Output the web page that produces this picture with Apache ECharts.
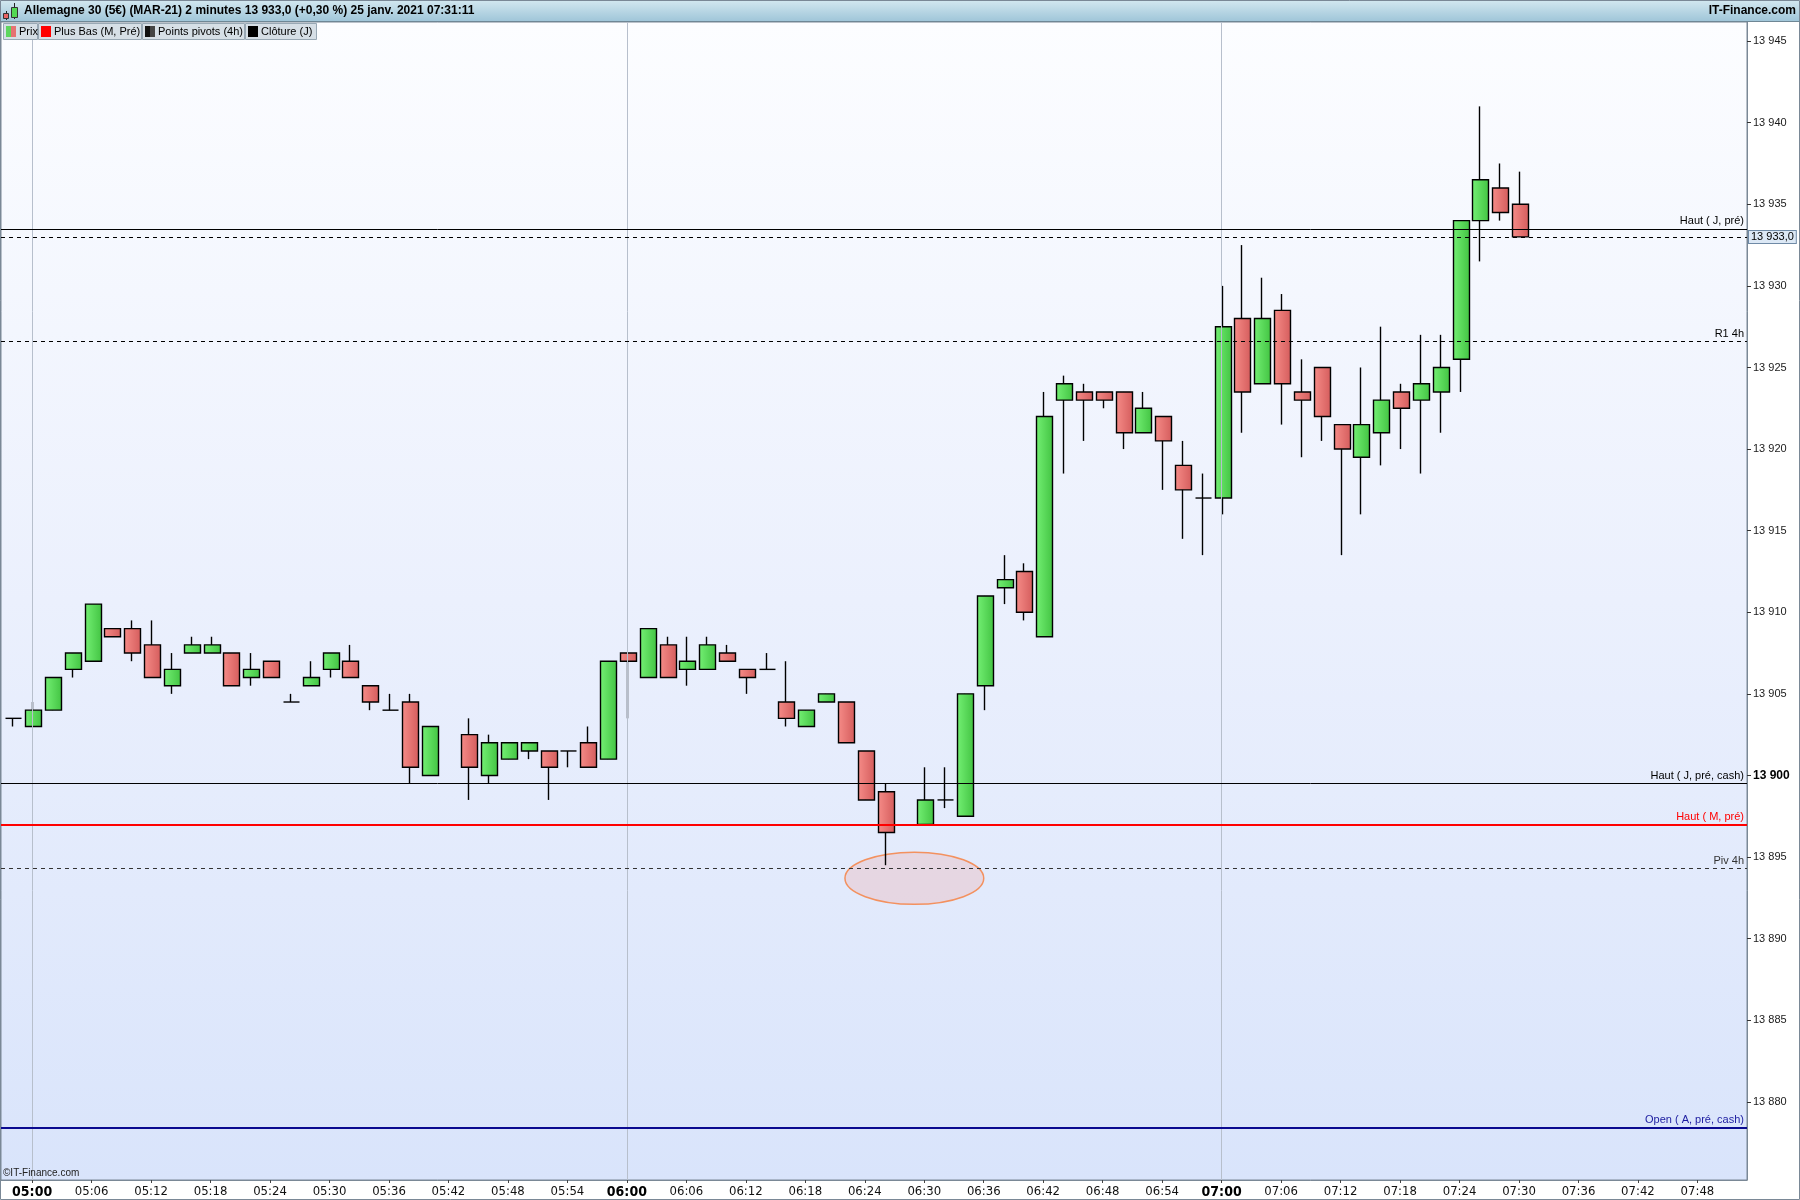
<!DOCTYPE html>
<html><head><meta charset="utf-8">
<script src="https://cdn.jsdelivr.net/npm/echarts@6/dist/echarts.min.js"></script>
<style>html,body{margin:0;padding:0;background:#fff}#chart{width:1800px;height:1200px}</style>
</head><body><div id="chart"></div>
<script>
// ---------------- DATA ----------------
const times = ['04:58','05:00','05:02','05:04','05:06','05:08','05:10','05:12','05:14','05:16','05:18','05:20','05:22','05:24','05:26','05:28','05:30','05:32','05:34','05:36','05:38','05:40',
'05:44','05:46','05:48','05:50','05:52','05:54','05:56','05:58','06:00','06:02','06:04','06:06','06:08','06:10','06:12','06:14','06:16','06:18','06:20','06:22','06:24','06:26',
'06:30','06:32','06:34','06:36','06:38','06:40','06:42','06:44','06:46','06:48','06:50','06:52','06:54','06:56','06:58','07:00','07:02','07:04','07:06','07:08','07:10','07:12','07:14','07:16','07:18','07:20','07:22','07:24','07:26','07:28','07:30'];
const opens = [13903.5,13903,13904,13906.5,13907,13909,13909,13908,13905.5,13907.5,13907.5,13907.5,13906,13907,13904.5,13905.5,13906.5,13907,13905.5,13904,13904.5,13900,
13902.5,13900,13901,13901.5,13901.5,13901.5,13902,13901,13907.5,13906,13908,13906.5,13906.5,13907.5,13906.5,13906.5,13904.5,13903,13904.5,13904.5,13901.5,13899,
13897,13898.5,13897.5,13905.5,13911.5,13912.5,13908.5,13923,13923.5,13923.5,13923.5,13921,13922,13919,13917,13917,13928,13924,13928.5,13923.5,13925,13921.5,13919.5,13921,13923.5,13923,13923.5,13925.5,13934,13936,13935];
const closes = [13903.5,13904,13906,13907.5,13910.5,13908.5,13907.5,13906,13906.5,13908,13908,13905.5,13906.5,13906,13904.5,13906,13907.5,13906,13904.5,13904,13900.5,13903,
13900.5,13902,13902,13902,13900.5,13901.5,13900.5,13907,13907,13909,13906,13907,13908,13907,13906,13906.5,13903.5,13904,13905,13902,13898.5,13896.5,
13898.5,13898.5,13905,13911,13912,13910,13922,13924,13923,13923,13921,13922.5,13920.5,13917.5,13917,13927.5,13923.5,13928,13924,13923,13922,13920,13921.5,13923,13922.5,13924,13925,13934,13936.5,13934.5,13933];
const lows = [13903,13903,13904,13906,13907,13908.5,13907,13906,13905,13907.5,13907.5,13905.5,13905.5,13906,13904.5,13905.5,13906,13906,13904,13904,13899.5,13900,
13898.5,13899.5,13901,13901,13898.5,13900.5,13900.5,13901,13903.5,13906,13906,13905.5,13906.5,13907,13905,13906.5,13903,13903,13904.5,13902,13898.5,13894.5,
13897,13898,13897.5,13904,13910.5,13909.5,13908.5,13918.5,13920.5,13922.5,13920,13921,13917.5,13914.5,13913.5,13916,13921,13924,13921.5,13919.5,13920.5,13913.5,13916,13919,13920,13918.5,13921,13923.5,13931.5,13934,13933];
const highs = [13903.5,13904.5,13906,13907.5,13910.5,13909,13909.5,13909.5,13907.5,13908.5,13908.5,13907.5,13907.5,13907,13905,13907,13907.5,13908,13905.5,13905,13905,13903,
13903.5,13902.5,13902,13902,13901.5,13901.5,13903,13907,13907.5,13909,13908.5,13908.5,13908.5,13908,13906.5,13907.5,13907,13904,13905,13904.5,13901.5,13899.5,
13900.5,13900.5,13905,13911,13913.5,13913,13923.5,13924.5,13924,13923.5,13923.5,13923.5,13922,13920.5,13918.5,13930,13932.5,13930.5,13929.5,13925.5,13925,13921.5,13925,13927.5,13924,13927,13927,13934,13941,13937.5,13937];

const yTickValues = [13880,13885,13890,13895,13900,13905,13910,13915,13920,13925,13930,13935,13940,13945];
const xTickLabels = ['05:00','05:06','05:12','05:18','05:24','05:30','05:36','05:42','05:48','05:54','06:00','06:06','06:12','06:18','06:24','06:30','06:36','06:42','06:48','06:54','07:00','07:06','07:12','07:18','07:24','07:30','07:36','07:42','07:48'];
const hourLines = ['05:00','06:00','07:00'];

const levelNames = ['Haut ( J, pré)','R1 4h','Haut ( J, pré, cash)','Haut ( M, pré)','Piv 4h','Open ( A, pré, cash)'];
const levelValues = [13933.5,13926.6,13899.5,13897,13894.3,13878.4];
const lastPrice = 13933.0;
const lastPriceLabel = '13 933,0';

const highlightCenter = ['06:29', 13893.7];
const highlightRadius = [7.0, 1.6]; // minutes, points

const titleText = 'Allemagne 30 (5€) (MAR-21) 2 minutes 13 933,0 (+0,30 %) 25 janv. 2021 07:31:11';
const legendItems = ['Prix','Plus Bas (M, Pré)','Points pivots (4h)','Clôture (J)'];

// ---------------- HELPERS ----------------
const FONT = '"Liberation Sans", Arial, Helvetica, sans-serif';
const NARROW = '"Liberation Sans Narrow", "Arial Narrow", "DejaVu Sans Condensed", "Liberation Sans", sans-serif';
function toMin(t){ const p=t.split(':'); return (+p[0])*60 + (+p[1]) - 300; }
function fmtMin(m){ const tot=Math.round(m)+300; const h=Math.floor(tot/60), mm=tot%60; return (h<10?'0':'')+h+':'+(mm<10?'0':'')+mm; }
function fmtPrice(v){ const s=String(Math.round(v)); return s.slice(0,s.length-3)+' '+s.slice(-3); }

const candleData = times.map((t,i)=>[toMin(t), opens[i], closes[i], lows[i], highs[i]]);
const xTickMins = xTickLabels.map(toMin);

const G = echarts.graphic;
const greenFill = new G.LinearGradient(0,0,1,0,[{offset:0,color:'#74f074'},{offset:1,color:'#42c342'}]);
const redFill = new G.LinearGradient(0,0,1,0,[{offset:0,color:'#f68c88'},{offset:1,color:'#d45c5c'}]);

function renderCandle(params, api){
  const x=api.value(0), o=api.value(1), c=api.value(2), lo=api.value(3), hi=api.value(4);
  const pO=api.coord([x,o]), pC=api.coord([x,c]), pL=api.coord([x,lo]), pH=api.coord([x,hi]);
  const slot=api.size([2,0])[0];
  const w=Math.round(slot*0.8);
  const cx=Math.round(pO[0])+0.5;
  const left=Math.round(cx-w/2)+0.5;
  const top=Math.min(pO[1],pC[1]), bot=Math.max(pO[1],pC[1]);
  const ch=[];
  ch.push({type:'line', shape:{x1:cx,y1:pH[1],x2:cx,y2:pL[1]}, style:{stroke:'#000',lineWidth:1.4}});
  if (o===c){
    ch.push({type:'line', shape:{x1:left,y1:pO[1],x2:left+w,y2:pO[1]}, style:{stroke:'#000',lineWidth:1.4}});
  } else {
    ch.push({type:'rect', shape:{x:left,y:top,width:w,height:bot-top}, style:{fill: c>o?greenFill:redFill, stroke:'#000', lineWidth:1.4}});
  }
  return {type:'group', children:ch};
}
function renderEllipse(params, api){
  const c=api.coord([api.value(0), api.value(1)]);
  const s=api.size([api.value(2), api.value(3)]);
  return {type:'ellipse', shape:{cx:c[0],cy:c[1],rx:s[0],ry:s[1]}, style:{fill:'rgba(238,170,165,0.30)', stroke:'#f3915f', lineWidth:1.5}};
}

const levelStyles = [
  {color:'#000', width:1, type:'solid', text:'#000'},
  {color:'#000', width:1, type:[4,4], text:'#000'},
  {color:'#000', width:1, type:'solid', text:'#000'},
  {color:'#ff0000', width:2, type:'solid', text:'#ff0000'},
  {color:'#333', width:1, type:[4,4], text:'#333'},
  {color:'#0a0a90', width:2, type:'solid', text:'#1c1ca0'}
];
const levelLines = levelValues.map((v,i)=>({
  yAxis: v,
  lineStyle:{color:levelStyles[i].color, width:levelStyles[i].width, type:levelStyles[i].type},
  label:{show:true, position:'insideEndTop', formatter: levelNames[i], color:levelStyles[i].text, fontSize:11, fontFamily:FONT, distance:[3,2]}
}));
levelLines.push({
  yAxis: lastPrice,
  lineStyle:{color:'#000', width:1, type:[4,4]},
  label:{show:true, position:'end', formatter:lastPriceLabel, color:'#000', fontSize:11, fontFamily:FONT, distance:2,
    backgroundColor:'#dce8f5', borderColor:'#6f8aa6', borderWidth:1, padding:[1,2,0,2]}
});

// ---------------- GRAPHICS (frame, header, legend) ----------------
const graphics = [];
graphics.push({type:'rect', z:100, shape:{x:0,y:0,width:1800,height:21}, style:{fill:new G.LinearGradient(0,0,0,1,[{offset:0,color:'#d3e8f0'},{offset:1,color:'#a0c6d9'}])}});
graphics.push({type:'line', z:101, shape:{x1:0,y1:21.5,x2:1800,y2:21.5}, style:{stroke:'#6f8795',lineWidth:1}});
// header icon
graphics.push({type:'line', z:101, shape:{x1:6.5,y1:11,x2:6.5,y2:20}, style:{stroke:'#222',lineWidth:1}});
graphics.push({type:'rect', z:102, shape:{x:3.5,y:13.5,width:5,height:5}, style:{fill:'#e86464',stroke:'#333',lineWidth:1}});
graphics.push({type:'line', z:101, shape:{x1:14.5,y1:3,x2:14.5,y2:19}, style:{stroke:'#222',lineWidth:1}});
graphics.push({type:'rect', z:102, shape:{x:11.5,y:7.5,width:6,height:10}, style:{fill:'#52d852',stroke:'#333',lineWidth:1}});
graphics.push({type:'text', z:102, x:24, y:11, style:{text:titleText, font:'bold 12px '+FONT, fill:'#000', verticalAlign:'middle'}});
graphics.push({type:'text', z:102, x:1796, y:11, style:{text:'IT-Finance.com', font:'bold 12px '+FONT, fill:'#000', textAlign:'right', verticalAlign:'middle'}});
// legend
const boxes = [[3,34],[38,103],[142,102],[245,71]];
const icons = [['#5ed65e','#e67272'],['#ff0000','#ff0000'],['#111','#444'],['#000','#000']];
legendItems.forEach((name,i)=>{
  const bx=boxes[i][0], bw=boxes[i][1];
  graphics.push({type:'rect', z:100, shape:{x:bx+0.5,y:23.5,width:bw,height:16}, style:{fill:'#d6dfe6',stroke:'#98a8b4',lineWidth:1}});
  graphics.push({type:'rect', z:101, shape:{x:bx+3,y:26,width:5,height:11}, style:{fill:icons[i][0]}});
  graphics.push({type:'rect', z:101, shape:{x:bx+8,y:26,width:5,height:11}, style:{fill:icons[i][1]}});
  graphics.push({type:'text', z:101, x:bx+16, y:32, style:{text:name, font:'11px '+FONT, fill:'#000', verticalAlign:'middle'}});
});
graphics.push({type:'text', z:100, x:3, y:1173, style:{text:'©IT-Finance.com', font:'10px '+FONT, fill:'#222', verticalAlign:'middle'}});
graphics.push({type:'rect', z:100, shape:{x:0.5,y:0.5,width:1799,height:1199}, style:{fill:null,stroke:'#7a8896',lineWidth:1}});

// ---------------- OPTION ----------------
const option = {
  animation:false,
  backgroundColor:'#ffffff',
  grid:{left:1, right:53, top:22, bottom:20, show:true, borderColor:'#7a8896', borderWidth:1,
    backgroundColor:{type:'linear',x:0,y:0,x2:0,y2:1,colorStops:[{offset:0,color:'#fcfdff'},{offset:0.5,color:'#ebf0fd'},{offset:1,color:'#d9e4fb'}]}},
  xAxis:{type:'value', min:-3.14, max:173.0,
    axisLine:{show:true, onZero:false, lineStyle:{color:'#7a8896'}},
    axisTick:{show:true, customValues:xTickMins, length:3, lineStyle:{color:'#444'}},
    axisLabel:{customValues:xTickMins, margin:5, color:'#111', fontSize:13, fontFamily:NARROW,
      formatter:v=>{ const s=fmtMin(v); return s.endsWith(':00') ? '{b|'+s+'}' : s; },
      rich:{b:{fontWeight:'bold', fontSize:14, fontFamily:NARROW, color:'#000'}}},
    splitLine:{show:false}},
  yAxis:{type:'value', position:'right', min:13875.21, max:13946.17,
    axisLine:{show:true, onZero:false, lineStyle:{color:'#7a8896'}},
    axisTick:{show:true, customValues:yTickValues, length:4, lineStyle:{color:'#333'}},
    axisLabel:{customValues:yTickValues, margin:6, color:'#1a1a1a', fontSize:11, fontFamily:FONT,
      formatter:v=> v===13900 ? '{b|'+fmtPrice(v)+'}' : fmtPrice(v),
      rich:{b:{fontWeight:'bold', fontSize:12, fontFamily:FONT, color:'#000'}}},
    splitLine:{show:false}},
  graphic: graphics,
  series:[
    {type:'line', data:[], z:1, silent:true,
      markLine:{symbol:['none','none'], silent:true, animation:false, label:{show:false},
        lineStyle:{color:'#b7bfcc', width:1, type:'solid'},
        data: hourLines.map(t=>({xAxis: toMin(t)}))}},
    {type:'custom', z:2, silent:true, renderItem:renderEllipse, encode:{x:0,y:1},
      data:[[toMin(highlightCenter[0]), highlightCenter[1], highlightRadius[0], highlightRadius[1]]]},
    {type:'custom', z:3, renderItem:renderCandle, encode:{x:0, y:[1,2,3,4]}, clip:true, data:candleData},
    {type:'line', data:[], z:5, silent:true,
      markLine:{symbol:['none','none'], silent:true, animation:false, data: levelLines}}
  ]
};
const chart = echarts.init(document.getElementById('chart'), null, {renderer:'canvas'});
chart.setOption(option);
</script></body></html>
